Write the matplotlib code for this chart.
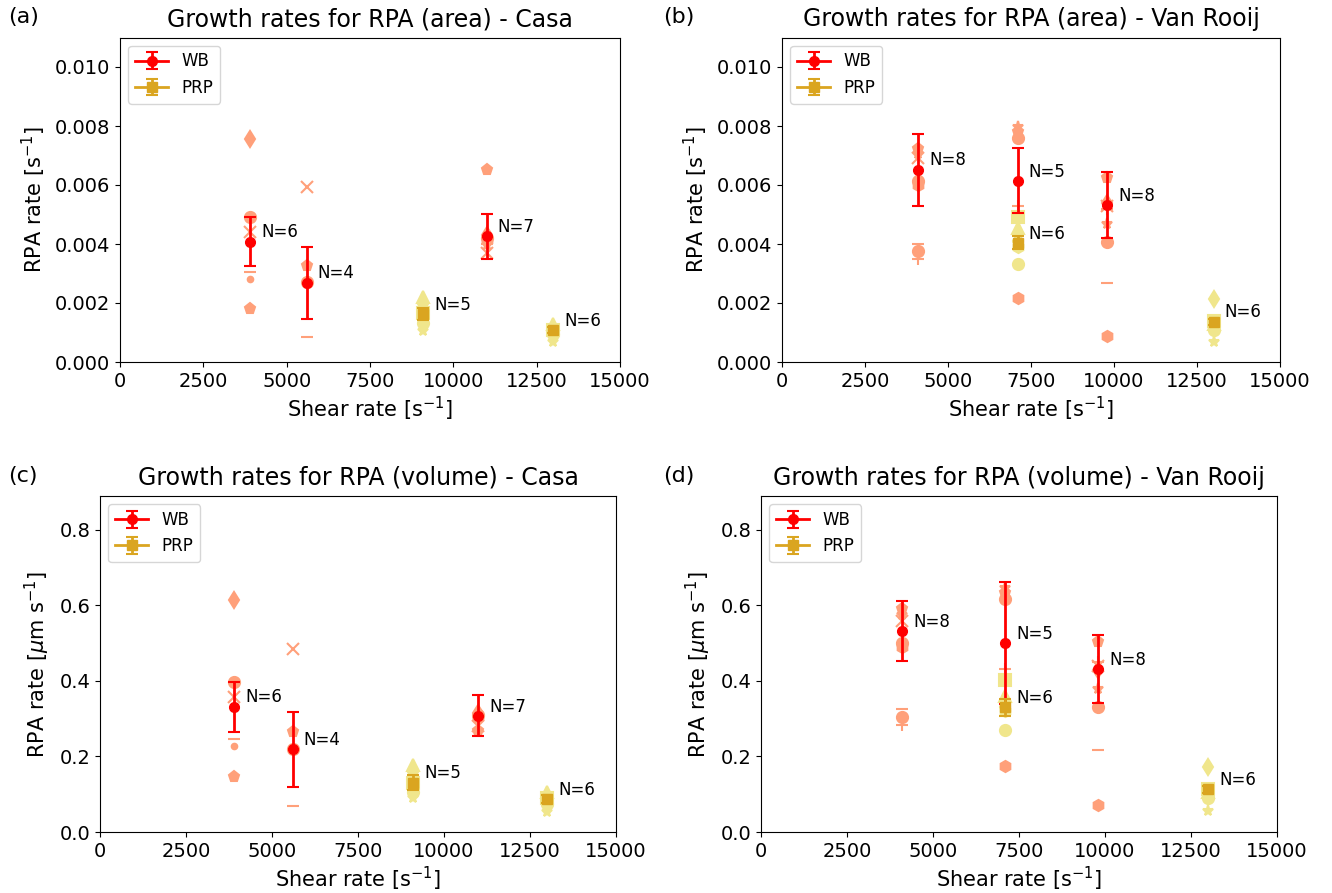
import matplotlib
matplotlib.use('Agg')
import matplotlib.pyplot as plt
import numpy as np

plt.rcParams['axes.labelsize'] = 15
plt.rcParams['xtick.labelsize'] = 14
plt.rcParams['ytick.labelsize'] = 14
plt.rcParams['axes.titlesize'] = 17

# ----------------------------------------------- #
# ------------------- DATA ---------------------- #
# ----------------------------------------------- #
shear_wb_casa = [3900, 5600, 11000]
shear_prp_casa = [9100, 13000]
shear_wb_vr = [4100, 7100, 9800]
shear_prp_vr = [7100, 13000]

n_wb_casa = [6, 4, 7]
n_prp_casa = [5, 6]
n_wb_vr = [8, 5, 8]
n_prp_vr = [6, 6]

# --- area, Casa
area_wb_casa_mean = [0.00408, 0.00269, 0.00426]
area_wb_casa_err = [0.00082, 0.00122, 0.00076]
area_wb_casa_pts = [[0.00755, 0.00490, 0.00442, 0.00304, 0.00281, 0.00180],
                    [0.00592, 0.00327, 0.00085, 0.00272],
                    [0.00651, 0.00371, 0.00420, 0.00395, 0.00432, 0.00415, 0.00400]]
area_prp_casa_mean = [0.00163, 0.00108]
area_prp_casa_err = [0.00020, 0.00010]
area_prp_casa_pts = [[0.00221, 0.00195, 0.00165, 0.00131, 0.00106],
                     [0.00128, 0.00110, 0.00095, 0.00102, 0.00069, 0.00100]]

# --- area, Van Rooij
area_wb_vr_mean = [0.00652, 0.00614, 0.00532]
area_wb_vr_err = [0.00122, 0.00110, 0.00112]
area_wb_vr_pts = [[0.00722, 0.00705, 0.00690, 0.00612, 0.00600, 0.00399, 0.00377, 0.00348],
                  [0.00797, 0.00780, 0.00758, 0.00529, 0.00216],
                  [0.00623, 0.00468, 0.00408, 0.00269, 0.00088, 0.00530, 0.00540, 0.00520]]
area_prp_vr_mean = [0.00404, 0.00137]
area_prp_vr_err = [0.00022, 0.00010]
area_prp_vr_pts = [[0.00493, 0.00453, 0.00332, 0.00410, 0.00400, 0.00390],
                   [0.00212, 0.00108, 0.00069, 0.00140, 0.00130, 0.00120]]

# --- volume, Casa
vol_wb_casa_mean = [0.332, 0.219, 0.308]
vol_wb_casa_err = [0.066, 0.099, 0.054]
vol_wb_casa_pts = [[0.615, 0.398, 0.357, 0.246, 0.229, 0.147],
                   [0.485, 0.265, 0.069, 0.220],
                   [0.268, 0.280, 0.310, 0.300, 0.315, 0.305, 0.310]]
vol_prp_casa_mean = [0.131, 0.087]
vol_prp_casa_err = [0.020, 0.010]
vol_prp_casa_pts = [[0.178, 0.160, 0.130, 0.105, 0.089],
                    [0.105, 0.090, 0.075, 0.082, 0.054, 0.078]]

# --- volume, Van Rooij
vol_wb_vr_mean = [0.532, 0.500, 0.431]
vol_wb_vr_err = [0.080, 0.162, 0.090]
vol_wb_vr_pts = [[0.590, 0.575, 0.560, 0.500, 0.490, 0.325, 0.305, 0.283],
                 [0.645, 0.633, 0.617, 0.432, 0.176],
                 [0.504, 0.378, 0.330, 0.217, 0.072, 0.440, 0.430, 0.450]]
vol_prp_vr_mean = [0.330, 0.113]
vol_prp_vr_err = [0.022, 0.010]
vol_prp_vr_pts = [[0.403, 0.360, 0.270, 0.330, 0.325, 0.320],
                  [0.173, 0.089, 0.056, 0.115, 0.105, 0.100]]

# marker of every single measurement (same order as the points above)
mk_wb_casa = [['d', 'o', 'x', '_', '.', 'p'],
              ['x', 'p', '_', 'o'],
              ['p', 'x', 'o', '*', 'd', 'h', '+']]
mk_prp_casa = [['^', 'd', 's', 'o', '*'],
               ['^', 's', 'o', 'd', '*', 'h']]
mk_wb_vr = [['p', '*', 'x', 'o', 'h', '_', 'o', '+'],
            ['*', 'p', 'o', '+', 'h'],
            ['p', '*', 'o', '_', 'h', 'x', 'd', '+']]
mk_prp_vr = [['s', '^', 'o', 'd', '*', 'h'],
             ['d', 'o', '*', 's', '^', 'h']]

# ----------------------------------------------- #
# -------------- FIGURE PLOT -------------------- #
# ----------------------------------------------- #
W, H = 1332, 893
fig = plt.figure(figsize=(W / 100, H / 100), dpi=100)


def px_axes(left, right, top, bottom):
  return fig.add_axes([left / W, 1 - bottom / H, (right - left) / W, (bottom - top) / H])


def draw_group(ax, xs, means, errs, pts, mks, ns, c_pts, c_mean, fmt, label):
  for i in range(len(xs)):
    for v, m in zip(pts[i], mks[i]):
      ax.plot(xs[i], v, marker=m, color=c_pts, ms=8, mew=1.5, linestyle='', zorder=2)
  for i in range(len(xs)):
    ax.errorbar([xs[i]], [means[i]], yerr=[errs[i]], fmt=fmt, color=c_mean, ms=7,
                capsize=4, elinewidth=2, capthick=1.5, linewidth=2,
                label=label if i == 0 else None, zorder=4)
    ax.annotate('N=%d' % ns[i], (xs[i], means[i]), xytext=(8, 3), textcoords='offset points',
                va='baseline', ha='left', fontsize=12, zorder=5)


panels = [
  ('(a)', 'Growth rates for RPA (area) - Casa', (120, 620, 37.5, 362), 0.011, r'RPA rate [s$^{-1}$]',
   shear_wb_casa, area_wb_casa_mean, area_wb_casa_err, area_wb_casa_pts, mk_wb_casa, n_wb_casa,
   shear_prp_casa, area_prp_casa_mean, area_prp_casa_err, area_prp_casa_pts, mk_prp_casa, n_prp_casa),
  ('(b)', 'Growth rates for RPA (area) - Van Rooij', (782, 1280, 37.5, 362), 0.011, r'RPA rate [s$^{-1}$]',
   shear_wb_vr, area_wb_vr_mean, area_wb_vr_err, area_wb_vr_pts, mk_wb_vr, n_wb_vr,
   shear_prp_vr, area_prp_vr_mean, area_prp_vr_err, area_prp_vr_pts, mk_prp_vr, n_prp_vr),
  ('(c)', 'Growth rates for RPA (volume) - Casa', (100, 616, 496, 832), 0.89, r'RPA rate [$\mu$m s$^{-1}$]',
   shear_wb_casa, vol_wb_casa_mean, vol_wb_casa_err, vol_wb_casa_pts, mk_wb_casa, n_wb_casa,
   shear_prp_casa, vol_prp_casa_mean, vol_prp_casa_err, vol_prp_casa_pts, mk_prp_casa, n_prp_casa),
  ('(d)', 'Growth rates for RPA (volume) - Van Rooij', (761, 1277, 496, 832), 0.89, r'RPA rate [$\mu$m s$^{-1}$]',
   shear_wb_vr, vol_wb_vr_mean, vol_wb_vr_err, vol_wb_vr_pts, mk_wb_vr, n_wb_vr,
   shear_prp_vr, vol_prp_vr_mean, vol_prp_vr_err, vol_prp_vr_pts, mk_prp_vr, n_prp_vr),
]

for p in panels:
  tag, title, box, ytop, ylab = p[:5]
  ax = px_axes(*box)
  draw_group(ax, *p[5:11], 'lightsalmon', 'red', '-o', 'WB')
  draw_group(ax, *p[11:17], 'khaki', 'goldenrod', '-s', 'PRP')
  ax.set_xlim(0, 15000)
  ax.set_ylim(0, ytop)
  ax.set_xticks(np.arange(0, 15001, 2500))
  if ytop < 0.1:
    ax.set_yticks(np.arange(0, 0.0101, 0.002))
    ax.yaxis.set_major_formatter(matplotlib.ticker.FormatStrFormatter('%.3f'))
  else:
    ax.set_yticks(np.arange(0, 0.81, 0.2))
    ax.yaxis.set_major_formatter(matplotlib.ticker.FormatStrFormatter('%.1f'))
  ax.set_title(title, pad=8)
  ax.set_xlabel(r'Shear rate [s$^{-1}$]', labelpad=3)
  ax.set_ylabel(ylab, labelpad=5)
  ax.legend(loc='upper left', fontsize=12)
  fx = 8 / W if box[0] < 400 else 663 / W
  fy = 1 - (box[2] - 20) / H
  fig.text(fx, fy, tag, fontsize=16, va='center', ha='left')

plt.savefig('out.png', dpi=100)
